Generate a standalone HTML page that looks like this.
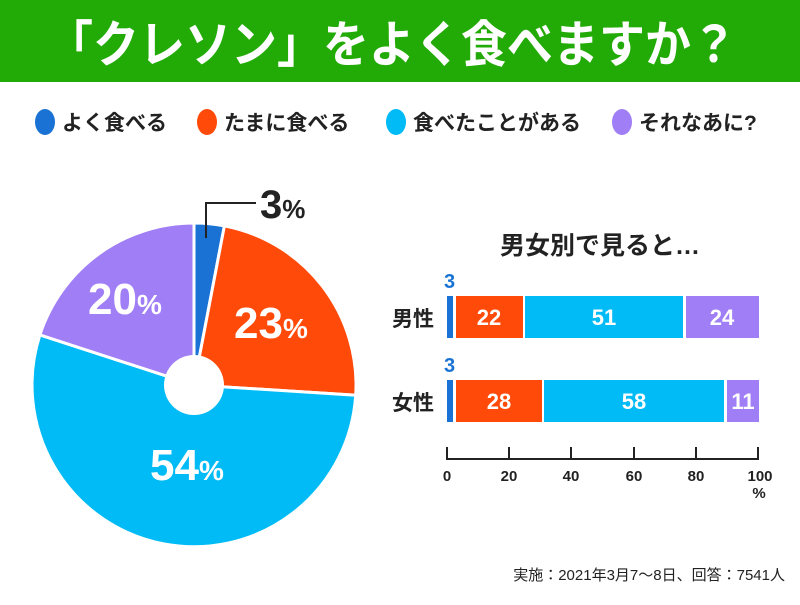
<!DOCTYPE html>
<html><head><meta charset="utf-8"><style>
body{margin:0;width:800px;height:600px;background:#fff;overflow:hidden;font-family:"Liberation Sans","Noto Sans CJK JP",sans-serif}
</style></head><body>
<svg width="800" height="600" xmlns="http://www.w3.org/2000/svg" font-family="Liberation Sans, Noto Sans CJK JP, sans-serif">
<rect x="0" y="0" width="800" height="82" fill="#22ab06"/>
<text x="392" y="62" text-anchor="middle" font-size="50" font-weight="bold" fill="#fff" textLength="690" lengthAdjust="spacingAndGlyphs">「クレソン」をよく食べますか？</text>
<g font-size="21" font-weight="bold" fill="#222">
<ellipse cx="45" cy="122" rx="10" ry="13" fill="#1a73d4"/><text x="62" y="130">よく食べる</text>
<ellipse cx="207" cy="122" rx="10" ry="13" fill="#ff4a0a"/><text x="224" y="130">たまに食べる</text>
<ellipse cx="396" cy="122" rx="10" ry="13" fill="#00bbf5"/><text x="413" y="130">食べたことがある</text>
<ellipse cx="622" cy="122" rx="10" ry="13" fill="#a07ef5"/><text x="639" y="130">それなあに?</text>
</g>
<g stroke="#fff" stroke-width="3">
<path d="M194,385 L194,223 A162,162 0 0 1 224.4,225.9 Z" fill="#1a73d4"/>
<path d="M194,385 L224.4,225.9 A162,162 0 0 1 355.7,395.2 Z" fill="#ff4a0a"/>
<path d="M194,385 L355.7,395.2 A162,162 0 1 1 39.9,334.9 Z" fill="#00bbf5"/>
<path d="M194,385 L39.9,334.9 A162,162 0 0 1 194,223 Z" fill="#a07ef5"/>
</g>
<circle cx="194" cy="385" r="30" fill="#fff"/>
<polyline points="206,238 206,203 256,203" fill="none" stroke="#222" stroke-width="2"/>
<text x="260" y="218" font-size="40" font-weight="bold" fill="#222">3<tspan font-size="26">%</tspan></text>
<g font-weight="bold" fill="#fff">
<text x="234" y="338" font-size="44">23<tspan font-size="28">%</tspan></text>
<text x="150" y="480" font-size="44">54<tspan font-size="28">%</tspan></text>
<text x="88" y="314" font-size="44">20<tspan font-size="28">%</tspan></text>
</g>
<text x="600" y="254" text-anchor="middle" font-size="25" font-weight="bold" fill="#222">男女別で見ると…</text>
<g font-size="21" font-weight="bold" fill="#222">
<text x="392" y="326">男性</text><text x="392" y="410">女性</text>
</g>
<g font-size="20" font-weight="bold" fill="#1a73d4">
<text x="444" y="288">3</text><text x="444" y="372">3</text>
</g>
<rect x="447" y="296" width="6" height="42" fill="#1a73d4"/>
<rect x="456" y="296" width="67" height="42" fill="#ff4a0a"/>
<rect x="525" y="296" width="158" height="42" fill="#00bbf5"/>
<rect x="686" y="296" width="73" height="42" fill="#a07ef5"/>
<rect x="447" y="380" width="6" height="42" fill="#1a73d4"/>
<rect x="456" y="380" width="86" height="42" fill="#ff4a0a"/>
<rect x="544" y="380" width="180" height="42" fill="#00bbf5"/>
<rect x="727" y="380" width="32" height="42" fill="#a07ef5"/>
<g font-size="22" font-weight="bold" fill="#fff" text-anchor="middle">
<text x="489" y="325">22</text><text x="604" y="325">51</text><text x="722" y="325">24</text>
<text x="499" y="409">28</text><text x="634" y="409">58</text><text x="743" y="409">11</text>
</g>
<g stroke="#222" stroke-width="2" fill="none">
<line x1="446" y1="459" x2="759" y2="459"/>
<line x1="447" y1="447" x2="447" y2="459"/><line x1="509" y1="447" x2="509" y2="459"/>
<line x1="571" y1="447" x2="571" y2="459"/><line x1="634" y1="447" x2="634" y2="459"/>
<line x1="696" y1="447" x2="696" y2="459"/><line x1="758" y1="447" x2="758" y2="459"/>
</g>
<g font-size="15" font-weight="bold" fill="#222" text-anchor="middle">
<text x="447" y="481">0</text><text x="509" y="481">20</text><text x="571" y="481">40</text>
<text x="634" y="481">60</text><text x="696" y="481">80</text><text x="760" y="481">100</text>
<text x="759" y="498">%</text>
</g>
<text x="785" y="580" text-anchor="end" font-size="15" fill="#222">実施：2021年3月7〜8日、回答：7541人</text>
</svg>
</body></html>
